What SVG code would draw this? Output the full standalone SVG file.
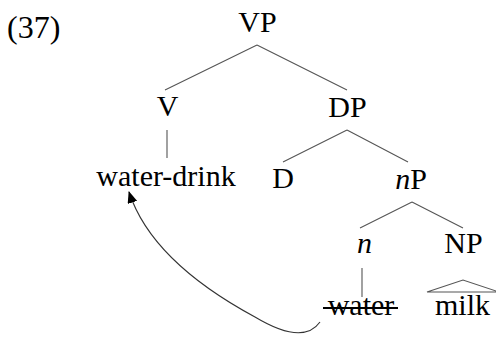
<svg xmlns="http://www.w3.org/2000/svg" width="496" height="337" viewBox="0 0 496 337">
<style>
text{font-family:"Liberation Serif","Times New Roman",serif;font-size:30px;fill:#000;text-anchor:middle}
.e{stroke:#555;stroke-width:1.1;fill:none}
.i{font-style:italic}
</style>
<defs>
<marker id="ah" viewBox="0 0 12 10" refX="11" refY="5" markerWidth="12" markerHeight="10" markerUnits="userSpaceOnUse" orient="auto">
<path d="M0,0 L12,5 L0,10 Z" fill="#000"/>
</marker>
</defs>
<rect width="496" height="337" fill="#fff"/>
<text x="7" y="38" style="text-anchor:start;font-size:32px">(37)</text>
<g id="edges">
<path class="e" d="M257,45 L165,90 M257,45 L347,90"/>
<path class="e" d="M167,130 L167,158"/>
<path class="e" d="M347,130 L283,162 M347,130 L408,162"/>
<path class="e" d="M412,202 L360,228 M412,202 L463,228"/>
<path class="e" d="M362,268 L362,297"/>
<path class="e" d="M427,292 L463,280 L499,292 Z"/>
<path class="e" style="stroke:#333" d="M320,322 C310,336 290,338 255,317 C205,290 148,250 129,192" marker-end="url(#ah)"/>
</g>
<g id="VP"><text x="257.5" y="32">VP</text></g>
<g id="V"><text x="167.5" y="116">V</text></g>
<g id="DP"><text x="347.5" y="117">DP</text></g>
<g id="water-drink"><text x="166" y="186">water-drink</text></g>
<g id="D"><text x="283" y="188">D</text></g>
<g id="nP"><text x="411" y="189"><tspan class="i">n</tspan>P</text></g>
<g id="n"><text x="364.5" y="253" class="i">n</text></g>
<g id="NP"><text x="463.5" y="253">NP</text></g>
<g id="water"><text x="361" y="315">water</text><line x1="323" y1="308" x2="398" y2="308" stroke="#000" stroke-width="2"/></g>
<g id="milk"><text x="462.5" y="315">milk</text></g>
</svg>
